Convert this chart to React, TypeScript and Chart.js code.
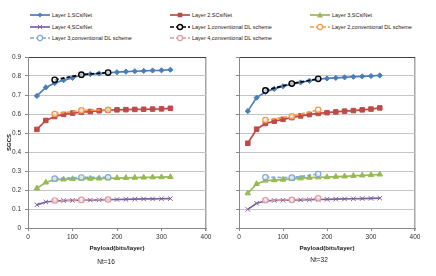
import React, { useEffect, useRef } from "react";
import { Chart, registerables } from "chart.js";

Chart.register(...registerables);

const payload = [20, 40, 60, 80, 100, 120, 140, 160, 180, 200, 220, 240, 260, 280, 300, 320];
const convPayload = [60, 120, 180];
const xTicks = [0, 100, 200, 300, 400];

// Nt = 16
const l1Nt16 = [0.695, 0.74, 0.763, 0.778, 0.79, 0.805, 0.81, 0.813, 0.816, 0.82, 0.823, 0.825, 0.827, 0.829, 0.83, 0.833];
const l2Nt16 = [0.519, 0.566, 0.587, 0.598, 0.605, 0.61, 0.613, 0.617, 0.62, 0.622, 0.623, 0.624, 0.625, 0.626, 0.627, 0.63];
const l3Nt16 = [0.209, 0.24, 0.255, 0.256, 0.258, 0.26, 0.26, 0.261, 0.262, 0.263, 0.264, 0.265, 0.266, 0.267, 0.268, 0.269];
const l4Nt16 = [0.122, 0.137, 0.142, 0.144, 0.145, 0.146, 0.147, 0.148, 0.149, 0.15, 0.151, 0.152, 0.153, 0.153, 0.154, 0.155];
const c1Nt16 = [0.78, 0.807, 0.818];
const c2Nt16 = [0.6, 0.619, 0.622];
const c3Nt16 = [0.26, 0.266, 0.267];
const c4Nt16 = [0.145, 0.148, 0.15];

// Nt = 32
const l1Nt32 = [0.615, 0.686, 0.716, 0.732, 0.746, 0.757, 0.766, 0.775, 0.783, 0.787, 0.79, 0.793, 0.796, 0.798, 0.8, 0.803];
const l2Nt32 = [0.446, 0.52, 0.55, 0.562, 0.572, 0.581, 0.59, 0.597, 0.603, 0.607, 0.611, 0.615, 0.618, 0.622, 0.626, 0.632];
const l3Nt32 = [0.183, 0.232, 0.25, 0.252, 0.255, 0.258, 0.262, 0.265, 0.267, 0.268, 0.27, 0.272, 0.275, 0.277, 0.279, 0.282];
const l4Nt32 = [0.098, 0.13, 0.142, 0.145, 0.146, 0.147, 0.148, 0.149, 0.15, 0.151, 0.152, 0.153, 0.154, 0.155, 0.156, 0.157];
const c1Nt32 = [0.724, 0.76, 0.785];
const c2Nt32 = [0.568, 0.588, 0.622];
const c3Nt32 = [0.267, 0.265, 0.284];
const c4Nt32 = [0.146, 0.148, 0.156];

type SeriesStyle = {
  label: string;
  color: string;
  point: string;
  radius: number;
  dashed: boolean;
  fill: string;
  pbw: number;
};

const styles: SeriesStyle[] = [
  { label: "Layer 1,SCsiNet", color: "#4a7ebb", point: "rectRot", radius: 2.6, dashed: false, fill: "#4a7ebb", pbw: 1 },
  { label: "Layer 2,SCsiNet", color: "#be4b48", point: "rect", radius: 3.2, dashed: false, fill: "#be4b48", pbw: 1 },
  { label: "Layer 3,SCsiNet", color: "#98b954", point: "triangle", radius: 3.2, dashed: false, fill: "#98b954", pbw: 1 },
  { label: "Layer 4,SCsiNet", color: "#7d60a0", point: "crossRot", radius: 3.2, dashed: false, fill: "#7d60a0", pbw: 1 },
  { label: "Layer 1,conventional DL scheme", color: "#000000", point: "circle", radius: 2.7, dashed: true, fill: "rgba(255,255,255,0.7)", pbw: 1.4 },
  { label: "Layer 2,conventional DL scheme", color: "#f79646", point: "circle", radius: 2.7, dashed: true, fill: "rgba(255,255,255,0.7)", pbw: 1.2 },
  { label: "Layer 3,conventional DL scheme", color: "#7fa7db", point: "circle", radius: 2.7, dashed: true, fill: "rgba(255,255,255,0.7)", pbw: 1.2 },
  { label: "Layer 4,conventional DL scheme", color: "#e09a98", point: "circle", radius: 2.7, dashed: true, fill: "rgba(255,255,255,0.7)", pbw: 1.2 },
];

const FONT = "'Liberation Sans', Arial, sans-serif";

function makeDatasets(series: number[][]) {
  return series.map((vals, i) => {
    const s = styles[i];
    const xs = i < 4 ? payload : convPayload;
    return {
      label: s.label,
      data: vals.map((v, k) => ({ x: xs[k], y: v })),
      borderColor: s.color,
      backgroundColor: s.fill,
      borderWidth: 1.7,
      borderDash: s.dashed ? [4, 2] : [],
      pointStyle: s.point,
      pointRadius: s.radius,
      pointBorderColor: s.color,
      pointBackgroundColor: s.fill,
      pointBorderWidth: s.pbw,
      order: i < 4 ? 2 : 1,
      tension: 0,
    };
  });
}

function Panel({ series, showY, left, width, padRight, yWidth }: any) {
  const ref = useRef<HTMLCanvasElement>(null);
  useEffect(() => {
    const chart = new Chart(ref.current!, {
      type: "line",
      data: { datasets: makeDatasets(series) as any },
      options: {
        animation: false,
        responsive: false,
        maintainAspectRatio: false,
        layout: { padding: { top: 7, right: padRight, left: 0, bottom: 0 } },
        plugins: { legend: { display: false }, tooltip: { enabled: false } },
        scales: {
          x: {
            type: "linear",
            min: 0,
            max: 400,
            afterBuildTicks: (axis: any) => {
              axis.ticks = xTicks.map((v) => ({ value: v }));
            },
            afterFit: (axis: any) => {
              axis.height = 48;
              axis.paddingLeft = 0;
              axis.paddingRight = 0;
            },
            border: { display: true, color: "#888888", width: 1 },
            grid: {
              color: (ctx: any) => (ctx.tick && ctx.tick.value === 400 ? "#a6a6a6" : "rgba(0,0,0,0)"),
              lineWidth: (ctx: any) => (ctx.tick && ctx.tick.value === 400 ? 1.5 : 1),
              tickColor: "#888888",
              tickLength: 3,
              drawOnChartArea: true,
            },
            ticks: { font: { family: FONT, size: 6.5 }, color: "#303030", padding: 2, maxRotation: 0 },
          },
          y: {
            min: 0,
            max: 0.9,
            ticks: {
              stepSize: 0.1,
              display: showY,
              font: { family: FONT, size: 6.5 },
              color: "#303030",
              padding: 4,
              callback: (v: any) => String(Math.round(Number(v) * 10) / 10),
            },
            afterFit: (axis: any) => {
              axis.width = yWidth;
              axis.paddingTop = 0;
              axis.paddingBottom = 0;
            },
            border: { display: true, color: "#888888", width: 1 },
            grid: {
              color: (ctx: any) => (ctx.tick && Math.abs(ctx.tick.value - 0.9) < 1e-6 ? "#404040" : "#c4c4c4"),
              tickColor: "#888888",
              tickLength: 3,
            },
            title: {
              display: showY,
              text: "SGCS",
              font: { family: FONT, size: 6, weight: "bold" },
              color: "#202020",
              padding: { top: 6, bottom: 0 },
            },
          },
        },
      } as any,
    });
    return () => chart.destroy();
  }, []);
  return (
    <canvas
      ref={ref}
      width={width}
      height={226}
      style={{ position: "absolute", left, top: 50, width, height: 226 }}
    />
  );
}

function LegendIcon({ s }: { s: SeriesStyle }) {
  const cx = 10;
  const cy = 4;
  const r = s.radius * 0.95;
  let marker: any = null;
  if (s.point === "rectRot") {
    marker = <polygon points={`${cx},${cy - r} ${cx + r},${cy} ${cx},${cy + r} ${cx - r},${cy}`} fill={s.color} />;
  } else if (s.point === "rect") {
    marker = <rect x={cx - r * 0.75} y={cy - r * 0.75} width={r * 1.5} height={r * 1.5} fill={s.color} />;
  } else if (s.point === "triangle") {
    marker = <polygon points={`${cx},${cy - r} ${cx + r},${cy + r * 0.8} ${cx - r},${cy + r * 0.8}`} fill={s.color} />;
  } else if (s.point === "crossRot") {
    marker = (
      <g stroke={s.color} strokeWidth={1}>
        <line x1={cx - r * 0.7} y1={cy - r * 0.7} x2={cx + r * 0.7} y2={cy + r * 0.7} />
        <line x1={cx - r * 0.7} y1={cy + r * 0.7} x2={cx + r * 0.7} y2={cy - r * 0.7} />
      </g>
    );
  } else {
    marker = <circle cx={cx} cy={cy} r={r} fill="#ffffff" stroke={s.color} strokeWidth={s.pbw} />;
  }
  return (
    <svg width={20} height={8} style={{ position: "absolute", left: 0, top: -4 }}>
      <line x1={0} y1={cy} x2={20} y2={cy} stroke={s.color} strokeWidth={1.7} strokeDasharray={s.dashed ? "4 2" : undefined} />
      {marker}
    </svg>
  );
}

const legendCols = [30, 170, 310];
const legendRows = [15, 26.5, 38];

export default function App() {
  const left = [l1Nt16, l2Nt16, l3Nt16, l4Nt16, c1Nt16, c2Nt16, c3Nt16, c4Nt16];
  const right = [l1Nt32, l2Nt32, l3Nt32, l4Nt32, c1Nt32, c2Nt32, c3Nt32, c4Nt32];
  return (
    <div style={{ position: "fixed", left: 0, top: 0, width: 436, height: 276, background: "#fff", overflow: "hidden", fontFamily: FONT }}>
      {styles.map((s, i) => (
        <div key={i} style={{ position: "absolute", left: legendCols[i % 3], top: legendRows[Math.floor(i / 3)], height: 0 }}>
          <LegendIcon s={s} />
          <span style={{ position: "absolute", left: 22, top: -4, fontSize: 5.5, lineHeight: "8px", whiteSpace: "nowrap", color: "#202020" }}>
            {s.label}
          </span>
        </div>
      ))}
      <Panel series={left} showY={true} left={0} width={212} padRight={6} yWidth={28} />
      <Panel series={right} showY={false} left={212} width={224} padRight={21} yWidth={27} />
      <div style={{ position: "absolute", left: 28, width: 178, top: 244, textAlign: "center", fontSize: 6.2, fontWeight: "bold", color: "#202020" }}>
        Payload(bits/layer)
      </div>
      <div style={{ position: "absolute", left: 239, width: 176, top: 244, textAlign: "center", fontSize: 6.2, fontWeight: "bold", color: "#202020" }}>
        Payload(bits/layer)
      </div>
      <div style={{ position: "absolute", left: 66, width: 80, top: 258, textAlign: "center", fontSize: 6.5, color: "#202020" }}>
        Nt=16
      </div>
      <div style={{ position: "absolute", left: 279, width: 80, top: 256, textAlign: "center", fontSize: 6.5, color: "#202020" }}>
        Nt=32
      </div>
    </div>
  );
}
